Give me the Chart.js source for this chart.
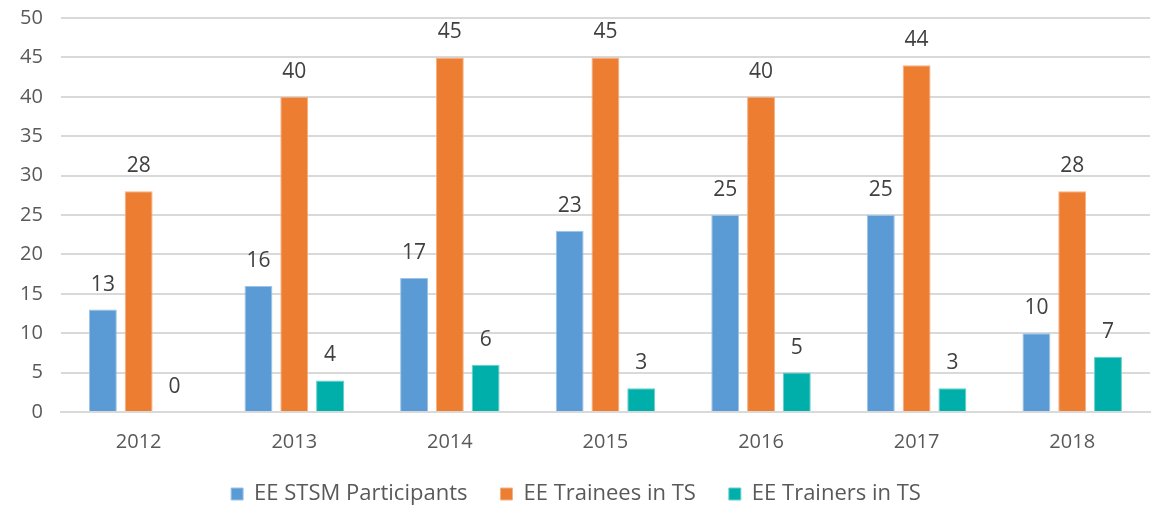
<!DOCTYPE html>
<html>
<head>
<meta charset="utf-8">
<script src="https://cdn.jsdelivr.net/npm/chart.js@4/dist/chart.umd.min.js"></script>
<style>
html,body{margin:0;padding:0;background:#fff;}
#wrap{width:1168px;height:509px;position:relative;}
</style>
</head>
<body>
<div id="wrap"><canvas id="c"></canvas></div>
<script>
const years=['2012','2013','2014','2015','2016','2017','2018'];
const stsmParticipants=[13,16,17,23,25,25,10];
const traineesInTS=[28,40,45,45,40,44,28];
const trainersInTS=[0,4,6,3,5,3,7];

const fontFam="'Open Sans', 'Noto Sans', sans-serif";

// draws the value above each bar
const valueLabels={
  id:'valueLabels',
  afterDatasetsDraw(chart){
    const ctx=chart.ctx;
    ctx.save();
    ctx.font='21px '+fontFam;
    ctx.fillStyle='#404040';
    ctx.textAlign='center';
    ctx.textBaseline='middle';
    chart.data.datasets.forEach((ds,i)=>{
      chart.getDatasetMeta(i).data.forEach((bar,j)=>{
        ctx.fillText(ds.data[j],bar.x,bar.y-25);
      });
    });
    ctx.restore();
  }
};

new Chart(document.getElementById('c').getContext('2d'),{
  type:'bar',
  data:{
    labels:years,
    datasets:[
      {label:'EE STSM Participants',data:stsmParticipants,backgroundColor:'#5B9BD5',borderColor:'#9DC3E6',borderWidth:1},
      {label:'EE Trainees in TS',data:traineesInTS,backgroundColor:'#ED7D31',borderColor:'#F4B183',borderWidth:1},
      {label:'EE Trainers in TS',data:trainersInTS,backgroundColor:'#00AFA9',borderColor:'#66CFCB',borderWidth:1}
    ]
  },
  options:{
    responsive:true,
    maintainAspectRatio:false,
    animation:false,
    layout:{padding:{top:18,right:18,left:2,bottom:0}},
    datasets:{bar:{categoryPercentage:0.69,barPercentage:0.78}},
    plugins:{
      legend:{
        position:'bottom',
        maxHeight:59,
        labels:{boxWidth:12,boxHeight:12,padding:33,color:'#595959',font:{family:fontFam,size:22,lineHeight:1}}
      },
      tooltip:{enabled:false}
    },
    scales:{
      x:{
        grid:{display:false},
        border:{color:'#D9D9D9',width:2},
        ticks:{color:'#595959',padding:12,font:{family:fontFam,size:20,lineHeight:1}},
        afterFit(scale){scale.height=38;}
      },
      y:{
        min:0,max:50,
        ticks:{stepSize:5,color:'#595959',padding:18,font:{family:fontFam,size:20}},
        grid:{color:'#D9D9D9',lineWidth:2,drawTicks:false},
        border:{display:false},
        afterFit(scale){scale.paddingTop=0;}
      }
    }
  },
  plugins:[valueLabels]
});
</script>
</body>
</html>
